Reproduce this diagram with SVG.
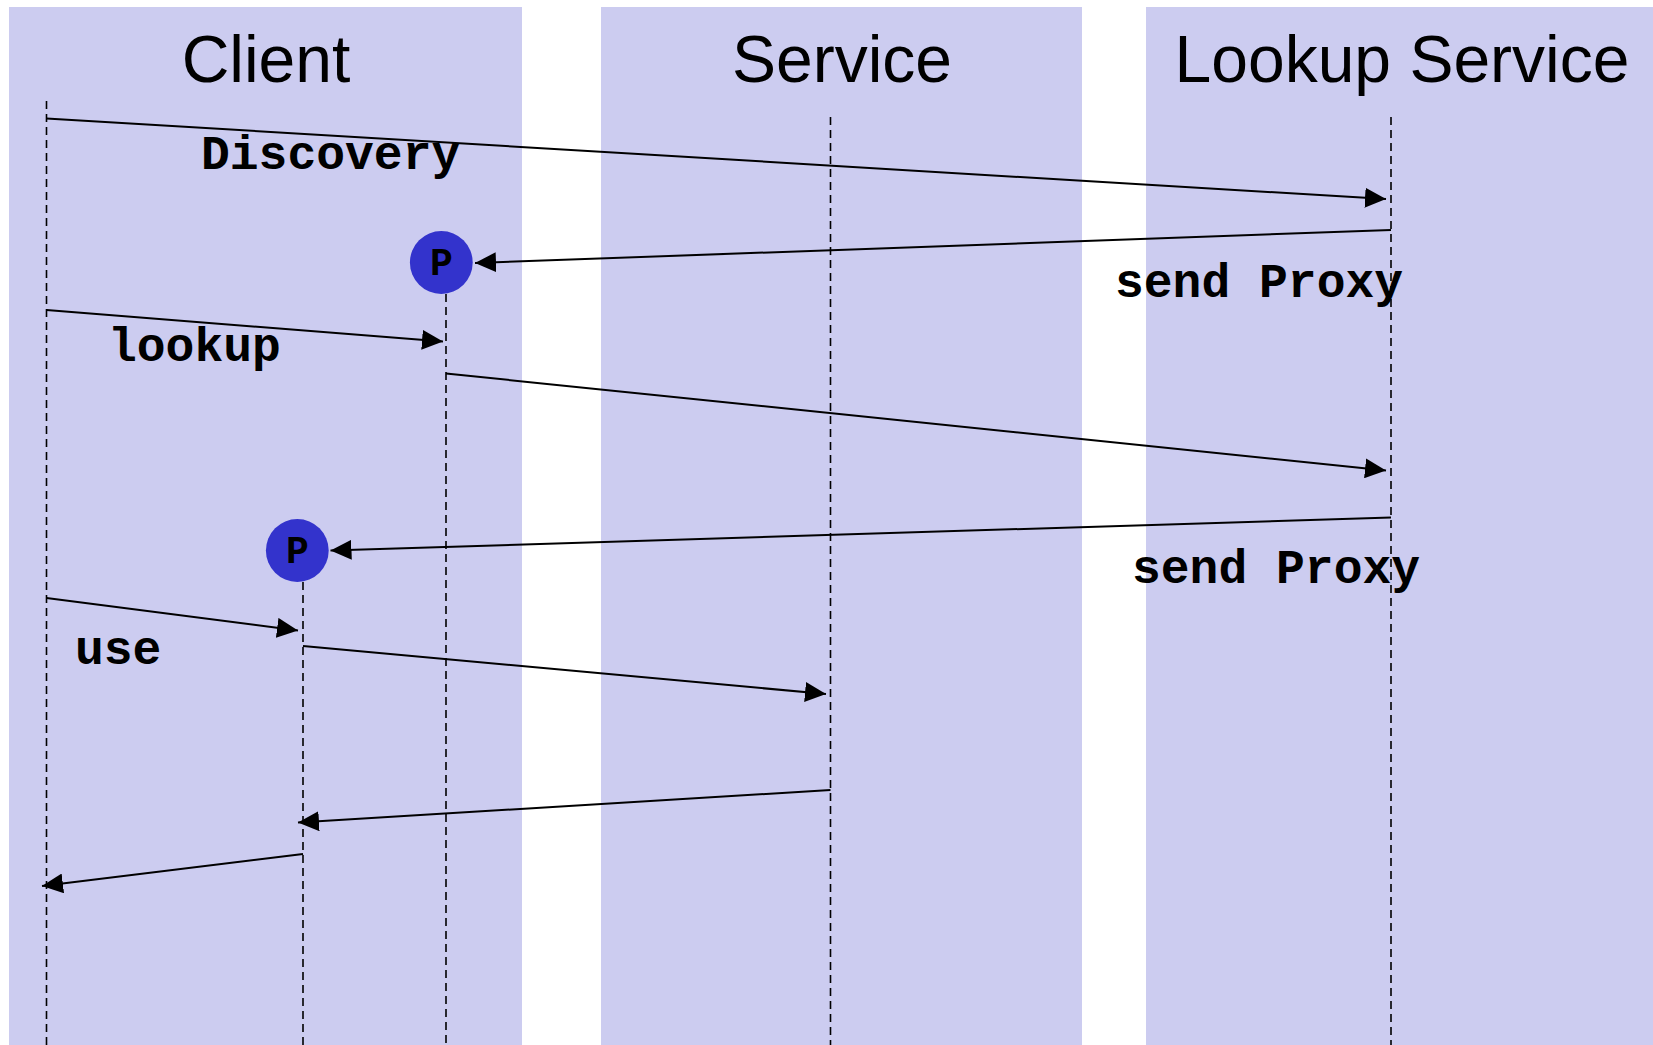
<svg xmlns="http://www.w3.org/2000/svg" width="1653" height="1045" viewBox="0 0 1653 1045">
  <style>
    .lane { fill: #ccccf0; }
    .title { font-family: "Liberation Sans", Arial, sans-serif; font-size: 66px; fill: #000; text-anchor: middle; }
    .life { stroke: #000; stroke-width: 1.6; stroke-dasharray: 8 5; fill: none; }
    .msg { stroke: #000; stroke-width: 2; fill: none; marker-end: url(#tip); }
    .label { font-family: "Liberation Mono", "Courier New", monospace; font-weight: bold; font-size: 48px; fill: #000; }
    .proxy { fill: #3333cc; }
    .proxy-text { font-family: "Liberation Mono", "Courier New", monospace; font-weight: bold; font-size: 38px; fill: #000; text-anchor: middle; }
  </style>
  <defs>
    <marker id="tip" markerUnits="userSpaceOnUse" markerWidth="21" markerHeight="20" refX="21" refY="10" orient="auto" viewBox="0 0 21 20">
      <path d="M0,0 L21,10 L0,20 Z" fill="#000"/>
    </marker>
  </defs>

  <!-- swim lanes -->
  <g id="lane-client">
    <rect class="lane" x="9" y="7" width="513" height="1038"/>
    <text class="title" x="266" y="82">Client</text>
  </g>
  <g id="lane-service">
    <rect class="lane" x="601" y="7" width="481" height="1038"/>
    <text class="title" x="842" y="82">Service</text>
  </g>
  <g id="lane-lookup">
    <rect class="lane" x="1146" y="7" width="507" height="1038"/>
    <text class="title" x="1402" y="82">Lookup Service</text>
  </g>

  <!-- lifelines -->
  <g id="lifelines">
    <line class="life" x1="46.5" y1="101" x2="46.5" y2="1045"/>
    <line class="life" x1="830.5" y1="117" x2="830.5" y2="1045"/>
    <line class="life" x1="1391" y1="117" x2="1391" y2="1045"/>
    <line class="life" x1="446" y1="294" x2="446" y2="1045"/>
    <line class="life" x1="303" y1="582" x2="303" y2="1045"/>
  </g>

  <!-- proxy objects -->
  <g id="proxy-1">
    <circle class="proxy" cx="441.3" cy="262.5" r="31.4"/>
    <text class="proxy-text" x="441.5" y="275">P</text>
  </g>
  <g id="proxy-2">
    <circle class="proxy" cx="297.3" cy="550.5" r="31.4"/>
    <text class="proxy-text" x="297.5" y="563">P</text>
  </g>

  <!-- messages -->
  <g id="connectors">
    <line class="msg" x1="46.5" y1="118.5" x2="1386" y2="199"/>
    <line class="msg" x1="1391" y1="230" x2="475" y2="263"/>
    <line class="msg" x1="46.5" y1="310" x2="443" y2="341.5"/>
    <line class="msg" x1="446" y1="373.5" x2="1386" y2="470.5"/>
    <line class="msg" x1="1391" y1="517.5" x2="330.5" y2="550.5"/>
    <line class="msg" x1="46.5" y1="598" x2="298" y2="630.5"/>
    <line class="msg" x1="303" y1="646" x2="826" y2="694"/>
    <line class="msg" x1="830.5" y1="790" x2="298" y2="822.5"/>
    <line class="msg" x1="303" y1="854" x2="42" y2="886"/>
  </g>

  <!-- message labels -->
  <g id="labels">
    <text class="label" x="201" y="169">Discovery</text>
    <text class="label" x="1115" y="297">send Proxy</text>
    <text class="label" x="108" y="361">lookup</text>
    <text class="label" x="1132" y="583">send Proxy</text>
    <text class="label" x="75" y="664">use</text>
  </g>
</svg>
